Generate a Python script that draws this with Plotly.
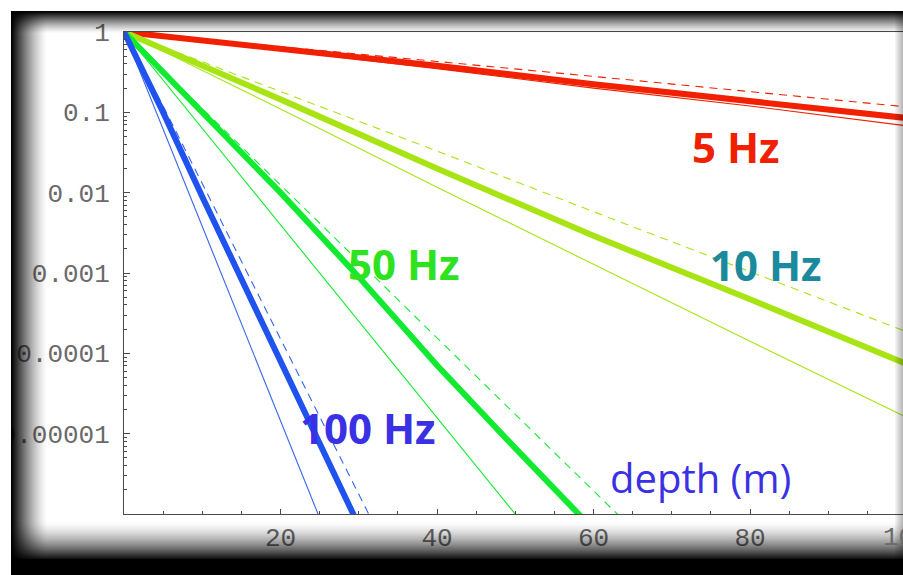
import plotly.graph_objects as go

# ---------------- data ----------------
# 5 Hz
d_5 = [0, 20, 40, 60, 80, 100]
a5_thick = [1, 0.62, 0.38, 0.224, 0.138, 0.085]
a5_thin = [1, 0.59, 0.35, 0.20, 0.12, 0.068]
a5_dash = [1, 0.66, 0.43, 0.28, 0.18, 0.117]
# 10 Hz
d_10 = [0, 20, 40, 60, 80, 100]
a10_thick = [1, 0.145, 0.020, 0.0029, 4.7e-4, 7.4e-5]
a10_thin = [1, 0.11, 0.0117, 1.29e-3, 1.41e-4, 1.6e-5]
a10_dash = [1, 0.18, 0.033, 0.0058, 1.05e-3, 1.86e-4]
# 50 Hz
d_50 = [0, 10, 20, 30, 40, 50, 60, 65]
a50_thick = [1, 0.1, 0.01, 8.9e-4, 7.1e-5, 6.6e-6, 6.3e-7, 2e-7]
a50_thin = [1, 0.063, 0.004, 2.5e-4, 1.6e-5, 1.0e-6, 6e-8, 1.5e-8]
a50_dash = [1, 0.112, 0.0125, 1.39e-3, 1.55e-4, 1.74e-5, 1.94e-6, 6.5e-7]
# 100 Hz
d_100 = [0, 5, 10, 15, 20, 25, 30, 35]
a100_thick = [1, 0.1, 0.0089, 8.3e-4, 7.9e-5, 7.6e-6, 7.1e-7, 6.8e-8]
a100_thin = [1, 0.062, 0.0038, 2.3e-4, 1.45e-5, 8.9e-7, 5.5e-8, 3.4e-9]
a100_dash = [1, 0.12, 0.013, 1.40e-3, 1.50e-4, 1.6e-5, 1.75e-6, 1.9e-7]

x_ticks = [20, 40, 60, 80, 100]
y_ticks = [1, 0.1, 0.01, 0.001, 0.0001, 0.00001]
y_ticktext = ["1", "0.1", "0.01", "0.001", "0.0001", "0.00001"]

labels = ["5 Hz", "10 Hz", "50 Hz", "100 Hz", "depth (m)"]

# ---------------- styling ----------------
RED = "#f02000"
YGR = "#a8e414"
GRN = "#12ea32"
BLU = "#2052ee"
W, H = 903, 575
L, T, R, B = 124, 32, 903, 514   # plot area in pixels
XMAX = (R - L) / 7.825

def px(xp):
    return (xp - L) / (R - L)

def py(yp):
    return (B - yp) / (B - T)

fig = go.Figure()

def add_set(d, thick, thin, dash, color, thin_color=None):
    tc = thin_color or color
    fig.add_trace(go.Scatter(x=d, y=thin, mode="lines", line=dict(color=tc, width=1.1), showlegend=False))
    fig.add_trace(go.Scatter(x=d, y=dash, mode="lines", line=dict(color=tc, width=1.1, dash="8px,6px"), showlegend=False))
    fig.add_trace(go.Scatter(x=d, y=thick, mode="lines", line=dict(color=color, width=6), showlegend=False))

add_set(d_5, a5_thick, a5_thin, a5_dash, RED)
add_set(d_10, a10_thick, a10_thin, a10_dash, YGR)
add_set(d_50, a50_thick, a50_thin, a50_dash, GRN)
add_set(d_100, a100_thick, a100_thin, a100_dash, BLU, "#3563ee")

AX = "#4a4a4a"
TICKFONT = dict(family="Liberation Mono, DejaVu Sans Mono, monospace", size=26, color="#6a6a6a")

y_minor = [m * 10 ** e for e in range(-6, 0) for m in range(2, 10)]

fig.update_xaxes(range=[0, XMAX], showgrid=False, zeroline=False,
                 showline=True, linecolor=AX, linewidth=1, mirror=True,
                 tickmode="array", tickvals=x_ticks[:-1], ticks="inside", ticklen=5,
                 tickcolor=AX, tickfont=TICKFONT, ticklabelstandoff=0,
                 minor=dict(tickmode="linear", tick0=0, dtick=5, ticks="inside", ticklen=3, tickcolor=AX))
fig.update_yaxes(type="log", range=[-6, 0], showgrid=False, zeroline=False,
                 showline=True, linecolor=AX, linewidth=1,
                 tickmode="array", tickvals=y_ticks, ticktext=y_ticktext, ticks="inside",
                 ticklen=6, tickcolor=AX, tickfont=TICKFONT, ticklabelstandoff=8,
                 minor=dict(tickmode="array", tickvals=y_minor, ticks="inside", ticklen=3, tickcolor=AX))

ann_font = "Comic Sans MS, Open Sans, sans-serif"
anns = [
    (labels[0], 736, 146, RED, 42, True),
    (labels[1], 766, 264, "#1a8a9c", 42, True),
    (labels[2], 404, 263, "#2ee222", 42, True),
    (labels[3], 368, 427, "#3a30e4", 42, True),
    (labels[4], 700, 477, "#3a30e4", 40, False),
]
for text, xp, yp, col, size, bold in anns:
    fig.add_annotation(x=px(xp), y=py(yp), xref="paper", yref="paper", text=f"<b>{text}</b>" if bold else text,
                       showarrow=False, xanchor="center", yanchor="middle",
                       font=dict(family=ann_font, size=size, color=col))

# cut-off "100" tick label at the right edge
fig.add_annotation(x=px(L + 7.825 * x_ticks[-1]), y=py(538), xref="paper", yref="paper", text=str(x_ticks[-1]),
                   showarrow=False, xanchor="center", yanchor="middle", font=TICKFONT)

# ---------------- dark vignette frame ----------------
shapes = []
def rect(x0, y0, x1, y1, op, color="black"):
    if op <= 0.004:
        return
    shapes.append(dict(type="rect", xref="paper", yref="paper", x0=px(x0), x1=px(x1), y0=py(y1), y1=py(y0),
                       fillcolor=color, line=dict(width=0), opacity=min(op, 1), layer="above"))

# white margins outside the framed picture
rect(0, 0, 11, H, 1, "white")
rect(0, 0, W, 11, 1, "white")
# left band
for i in range(36):
    t = i / 36
    rect(11 + i, 11, 12 + i, H, (1 - t) ** 1.4)
# top band
for i in range(22):
    t = i / 22
    rect(11, 11 + i, W, 12 + i, (1 - t) ** 1.3)
# bottom band
for i in range(40):
    t = i / 40
    rect(11, 520 + i, W, 521 + i, t ** 1.6)
rect(11, 559, W, H, 1)
# right faint band
for i in range(8):
    t = i / 8
    rect(895 + i, 11, 896 + i, H, 0.05 + 0.25 * t)

fig.update_layout(width=W, height=H, margin=dict(l=L, r=W - R, t=T, b=H - B),
                  paper_bgcolor="white", plot_bgcolor="white", shapes=shapes, showlegend=False)

fig.write_html("out.html")
